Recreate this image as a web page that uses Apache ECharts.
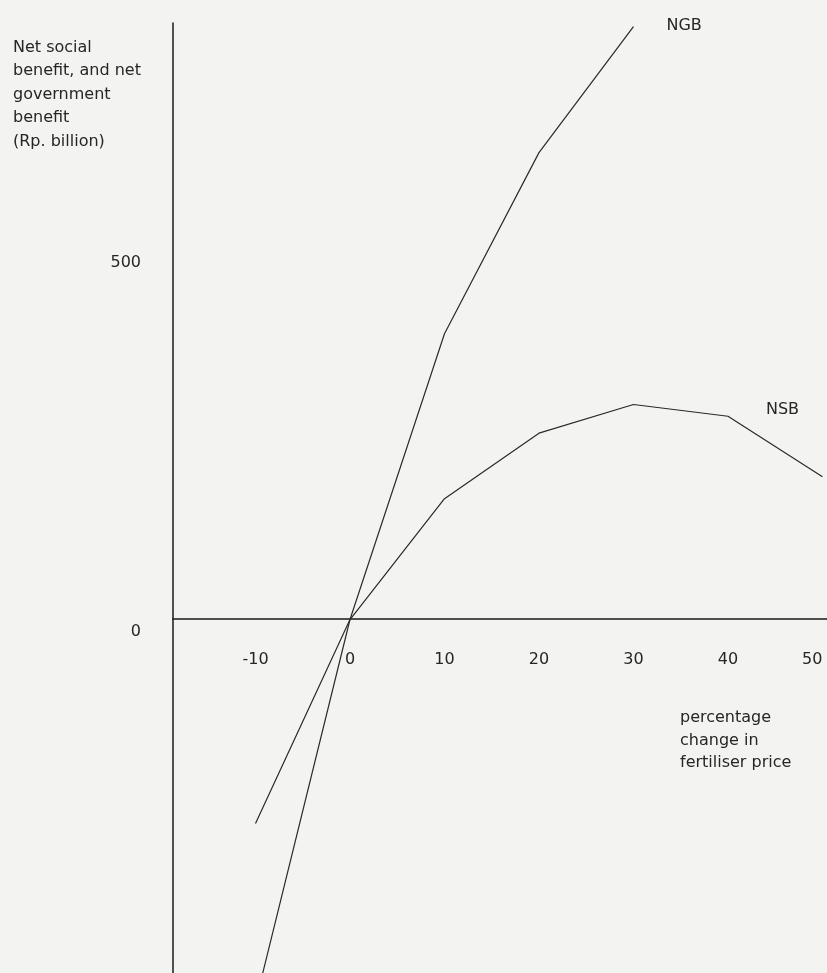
<!DOCTYPE html>
<html>
<head>
<meta charset="utf-8">
<script src="https://cdn.jsdelivr.net/npm/echarts@6/dist/echarts.min.js"></script>
<style>
  html, body { margin: 0; padding: 0; background: #f3f3f1; }
  #chart { width: 827px; height: 973px; }
</style>
</head>
<body>
<div id="chart"></div>
<script>
// ---- data ----
const priceChange = [-10, 0, 10, 20, 30, 40, 50];           // % change in fertiliser price
const nsbValues   = [-277, 0, 164, 253, 292, 276, 194];       // Net social benefit (Rp. billion)
const ngbX        = [-10, 0, 10, 20, 30];
const ngbValues   = [-520, 0, 388, 634, 805];                 // Net government benefit (Rp. billion)
const xTickLabels = [-10, 0, 10, 20, 30, 40, 50];
const yTickLabels = [0, 500];
const yAxisTitle  = 'Net social\nbenefit, and net\ngovernment\nbenefit\n(Rp. billion)';
const xAxisTitle  = 'percentage\nchange in\nfertiliser price';

const FONT = 'DejaVu Sans, Verdana, sans-serif';
const FS = 16;
const INK = '#262626';

const nsbData = priceChange.map((x, i) => [x, nsbValues[i]]);
const ngbData = ngbX.map((x, i) => [x, ngbValues[i]]);

const chart = echarts.init(document.getElementById('chart'), null, { renderer: 'canvas' });
chart.setOption({
  backgroundColor: '#f3f3f1',
  animation: false,
  title: {
    text: yAxisTitle,
    left: 8,
    top: 31,
    textStyle: { fontFamily: FONT, fontSize: FS, fontWeight: 'normal', color: INK, lineHeight: 23.5 }
  },
  graphic: [{
    type: 'text',
    left: 680,
    top: 707,
    style: { text: xAxisTitle, font: FS + 'px ' + FONT, fill: INK, lineHeight: 22.5 }
  }],
  grid: { left: 173, right: 0, top: 23, bottom: 0, containLabel: false, outerBoundsMode: 'none' },
  xAxis: {
    type: 'value',
    min: -18.73,
    max: 50.48,
    position: 'bottom',
    offset: -354,
    axisLine: { onZero: false, lineStyle: { color: '#1a1a1a', width: 1.5 } },
    axisTick: { show: false },
    splitLine: { show: false },
    axisLabel: {
      customValues: xTickLabels,
      margin: 33,
      alignMaxLabel: 'right',
      fontFamily: FONT, fontSize: FS, color: INK
    }
  },
  yAxis: {
    type: 'value',
    min: -480,
    max: 810,
    axisLine: { show: true, onZero: false, lineStyle: { color: '#1a1a1a', width: 1.5 } },
    axisTick: { show: false },
    splitLine: { show: false },
    axisLabel: {
      customValues: yTickLabels,
      margin: 32,
      verticalAlign: 'top',
      lineHeight: 24,
      fontFamily: FONT, fontSize: FS, color: INK
    }
  },
  series: [
    {
      name: 'NGB',
      type: 'line',
      data: ngbData,
      showSymbol: false,
      clip: true,
      lineStyle: { color: '#2a2a2a', width: 1.2 },
      endLabel: {
        show: true,
        formatter: 'NGB',
        distance: 33,
        offset: [0, -1],
        fontFamily: FONT, fontSize: FS, color: INK
      }
    },
    {
      name: 'NSB',
      type: 'line',
      data: nsbData,
      showSymbol: false,
      clip: true,
      lineStyle: { color: '#2a2a2a', width: 1.2 },
      markPoint: {
        symbol: 'circle',
        symbolSize: 0,
        data: [{
          coord: nsbData[5],
          label: {
            show: true,
            formatter: 'NSB',
            position: 'right',
            distance: 38,
            offset: [0, -6],
            fontFamily: FONT, fontSize: FS, color: INK
          }
        }]
      }
    }
  ]
});
</script>
</body>
</html>
